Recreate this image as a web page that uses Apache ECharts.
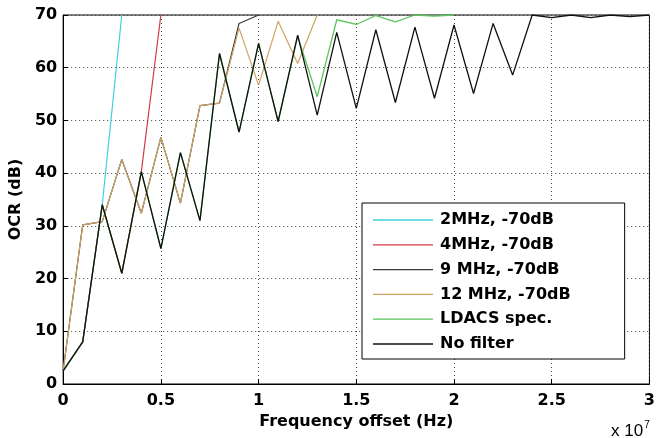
<!DOCTYPE html>
<html>
<head>
<meta charset="utf-8">
<script src="https://cdn.jsdelivr.net/npm/echarts@6/dist/echarts.min.js"></script>
<style>html,body{margin:0;padding:0;background:#fff;}#c{width:658px;height:438px;}</style>
</head>
<body>
<div id="c"></div>
<script>
// Frequency offset, in units of 1e7 Hz
const offsets = [0,0.1,0.2,0.3,0.4,0.5,0.6,0.7,0.8,0.9,1.0,1.1,1.2,1.3,1.4,1.5,1.6,1.7,1.8,1.9,2.0,2.1,2.2,2.3,2.4,2.5,2.6,2.7,2.8,2.9,3.0];
const xTickLabels = ['0','0.5','1','1.5','2','2.5','3'];
const yTickLabels = ['0','10','20','30','40','50','60','70'];
const seriesNames = ['2MHz, -70dB','4MHz, -70dB','9 MHz, -70dB','12 MHz, -70dB','LDACS spec.','No filter'];
// OCR (dB) values
const ocr2MHz  = [2.5, 8, 34, 70];
const ocr4MHz  = [2.5, 8, 34, 21, 40.3, 70];
const ocr9MHz  = [2.6, 30.2, 30.8, 42.6, 32.4, 46.8, 34.3, 52.8, 53.3, 68.4, 70];
const ocr12MHz = [2.6, 30.2, 30.8, 42.6, 32.4, 46.8, 34.3, 52.8, 53.3, 67.5, 56.7, 68.8, 60.8, 70];
const ocrLdacs = [2.5, 8, 34, 21, 40.3, 25.7, 43.9, 31, 62.7, 47.8, 64.6, 49.8, 66.0, 54.5, 69.1, 68.2, 69.9, 68.7, 70, 69.8, 70];
const ocrNoFilter = [2.5, 8, 34, 21, 40.3, 25.7, 43.9, 31, 62.7, 47.8, 64.6, 49.8, 66.2, 51, 66.7, 52.3, 67.2, 53.4, 67.7, 54.2, 68.1, 55.1, 68.4, 58.6, 70, 69.5, 70, 69.5, 70, 69.7, 70];

const colors = ['#3fd0de','#d03a48','#3a3a3a','#cfa263','#5cc65c','#111111'];
const allValues = [ocr2MHz, ocr4MHz, ocr9MHz, ocr12MHz, ocrLdacs, ocrNoFilter];

const FONT = 'DejaVu Sans';
const chart = echarts.init(document.getElementById('c'), null, {renderer:'canvas'});
const series = seriesNames.map((name, i) => ({
  name: name,
  type: 'line',
  data: allValues[i].map((v, k) => [offsets[k], v]),
  symbol: 'none',
  showSymbol: false,
  lineStyle: {color: colors[i], width: i >= 4 ? 1.3 : 1.2},
  itemStyle: {color: colors[i]},
  clip: true,
  z: 2 + i
}));

chart.setOption({
  animation: false,
  backgroundColor: '#fff',
  grid: {left: 59, right: 1, top: 15, bottom: 54, show: true, borderColor: '#000', borderWidth: 1, backgroundColor: 'transparent'},
  xAxis: {
    type: 'value', min: 0, max: 3, interval: 0.5,
    name: 'Frequency offset (Hz)', nameLocation: 'middle', nameGap: 24,
    nameTextStyle: {fontFamily: FONT, fontWeight: 'bold', fontSize: 16, color: '#000'},
    axisLine: {show: true, lineStyle: {color: '#000', width: 1}},
    axisTick: {show: true, inside: true, length: 5, lineStyle: {color: '#000'}},
    axisLabel: {margin: 9, fontFamily: FONT, fontWeight: 'bold', fontSize: 16, color: '#000',
      formatter: (v) => xTickLabels[Math.round(v / 0.5)]},
    splitLine: {show: true, lineStyle: {color: '#444', width: 1, type: [1, 3]}}
  },
  yAxis: {
    type: 'value', min: 0, max: 70, interval: 10,
    name: 'OCR (dB)', nameLocation: 'middle', nameGap: 37,
    nameTextStyle: {fontFamily: FONT, fontWeight: 'bold', fontSize: 16, color: '#000'},
    axisLine: {show: true, lineStyle: {color: '#000', width: 1}},
    axisTick: {show: true, inside: true, length: 5, lineStyle: {color: '#000'}},
    axisLabel: {margin: 6, fontFamily: FONT, fontWeight: 'bold', fontSize: 16, color: '#000',
      formatter: (v) => yTickLabels[Math.round(v / 10)]},
    splitLine: {show: true, lineStyle: {color: '#444', width: 1, type: [1, 3]}}
  },
  legend: {
    data: seriesNames,
    orient: 'vertical', left: 362, top: 203,
    icon: 'rect',
    itemWidth: 60, itemHeight: 1.3, itemGap: 4.8,
    padding: [7, 54, 5, 11],
    backgroundColor: '#fff', borderColor: '#000', borderWidth: 1, borderRadius: 0,
    textStyle: {fontFamily: FONT, fontWeight: 'bold', fontSize: 16, color: '#000', lineHeight: 20, padding: [0,0,0,2]},
    selectedMode: false
  },
  graphic: [{
    type: 'text', left: 611, top: 420,
    style: {
      text: '{a|x 10}{b|7}',
      rich: {
        a: {fontFamily: 'Liberation Sans', fontSize: 17, fill: '#000', color: '#000', verticalAlign: 'bottom'},
        b: {fontFamily: 'Liberation Sans', fontSize: 10, fill: '#000', color: '#000', verticalAlign: 'top', padding: [0,0,10,1]}
      }
    }
  }],
  series: series
});
</script>
</body>
</html>
